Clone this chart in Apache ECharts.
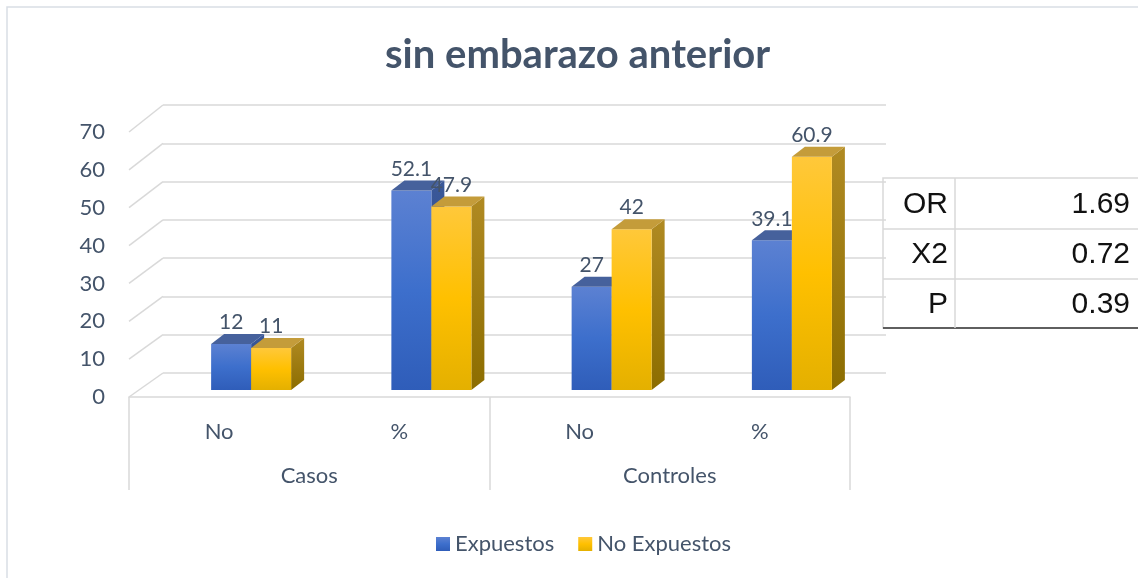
<!DOCTYPE html>
<html>
<head>
<meta charset="utf-8">
<script src="https://cdn.jsdelivr.net/npm/echarts@6/dist/echarts.min.js"></script>
<style>
  html, body { margin: 0; padding: 0; background: #fff; }
  #main { width: 1138px; height: 578px; }
</style>
</head>
<body>
<div id="main"></div>
<script>
// datos
var categories = ["No", "%", "No", "%"];
var groups = ["Casos", "Controles"];
var expuestos = [12, 52.1, 27, 39.1];
var noExpuestos = [11, 47.9, 42, 60.9];
var yTicks = [0, 10, 20, 30, 40, 50, 60, 70];
var statLabels = ["OR", "X2", "P"];
var statValues = ["1.69", "0.72", "0.39"];

var FONT = "Lato, 'Open Sans', sans-serif";
var TXT = "#44546a";
var GRID = "#d9d9d9";
var DX = 13, DY = 10, BW = 40; // profundidad de las barras

var chart = echarts.init(document.getElementById("main"));

function grad(c1, c2, c3) {
  return new echarts.graphic.LinearGradient(0, 0, 0, 1, [
    { offset: 0, color: c1 },
    { offset: 0.5, color: c2 },
    { offset: 1, color: c3 }
  ]);
}

var styles = [
  { front: ["#5c81d2", "#3d6fcc", "#2f5db9"], top: "#46619c", side: ["#3a5899", "#2a4785"] },
  { front: ["#ffc83a", "#ffc000", "#e4b000"], top: "#c49c3a", side: ["#b08a22", "#8c6d00"] }
];

function barRender(s) {
  return function (params, api) {
    var idx = api.value(0);
    var val = api.value(1);
    var base = api.coord([idx, 0]);
    var top = api.coord([idx, val]);
    var x0 = base[0] + (s === 0 ? -BW : 0);
    var x1 = x0 + BW;
    var st = styles[s];
    return {
      type: "group",
      children: [
        {
          type: "polygon",
          shape: { points: [[x1, top[1]], [x1 + DX, top[1] - DY], [x1 + DX, base[1] - DY], [x1, base[1]]] },
          style: { fill: new echarts.graphic.LinearGradient(0, 0, 0, 1, [{ offset: 0, color: st.side[0] }, { offset: 1, color: st.side[1] }]) }
        },
        {
          type: "rect",
          shape: { x: x0, y: top[1], width: BW, height: base[1] - top[1] },
          style: { fill: grad(st.front[0], st.front[1], st.front[2]) }
        },
        {
          type: "polygon",
          shape: { points: [[x0, top[1]], [x0 + DX, top[1] - DY], [x1 + DX, top[1] - DY], [x1, top[1]]] },
          style: { fill: st.top }
        },
        {
          type: "text",
          x: x0 + BW / 2,
          y: top[1] - DY - 1,
          style: {
            text: String(val),
            fill: TXT,
            font: "21px " + FONT,
            align: "center",
            verticalAlign: "bottom"
          }
        }
      ]
    };
  };
}

var tableChildren = [
  { type: "rect", shape: { x: 0, y: 0, width: 260, height: 150 }, style: { fill: "#fff", stroke: GRID, lineWidth: 1.5 } },
  { type: "line", shape: { x1: 0, y1: 150, x2: 260, y2: 150 }, style: { stroke: "#333", lineWidth: 1.5 } },
  { type: "line", shape: { x1: 72, y1: 0, x2: 72, y2: 150 }, style: { stroke: GRID, lineWidth: 1.5 } },
  { type: "line", shape: { x1: 0, y1: 51, x2: 260, y2: 51 }, style: { stroke: GRID, lineWidth: 1.5 } },
  { type: "line", shape: { x1: 0, y1: 101, x2: 260, y2: 101 }, style: { stroke: GRID, lineWidth: 1.5 } }
];
statLabels.forEach(function (lab, i) {
  var cy = 27 + i * 50;
  tableChildren.push({ type: "text", x: 65, y: cy, style: { text: lab, fill: "#111", font: "30px 'Liberation Sans', Arial", align: "right", verticalAlign: "middle" } });
  tableChildren.push({ type: "text", x: 247, y: cy, style: { text: statValues[i], fill: "#111", font: "30px 'Liberation Sans', Arial", align: "right", verticalAlign: "middle" } });
});

var option = {
  backgroundColor: "#fff",
  animation: false,
  title: {
    text: "sin embarazo anterior",
    left: 380,
    top: 30,
    textStyle: { color: TXT, fontFamily: FONT, fontWeight: "bold", fontSize: 40 }
  },
  legend: {
    bottom: 18,
    left: 431,
    itemWidth: 14,
    itemHeight: 14,
    itemGap: 24,
    icon: "rect",
    textStyle: { color: TXT, fontFamily: FONT, fontSize: 22 },
    data: ["Expuestos", "No Expuestos"]
  },
  grid: [
    { left: 129, right: 288, top: 132, bottom: 181 },   // plano frontal
    { left: 163, right: 252, top: 105, bottom: 205 },   // pared del fondo
    { left: 161, right: 256, top: 122, bottom: 188 }    // barras
  ],
  xAxis: [
    {
      gridIndex: 0, type: "category", data: categories,
      axisLine: { lineStyle: { color: GRID, width: 1.5 } },
      axisTick: { show: false },
      axisLabel: { color: TXT, fontFamily: FONT, fontSize: 22, margin: 24 }
    },
    {
      gridIndex: 0, type: "category", data: groups, position: "bottom",
      axisLine: { show: false },
      axisTick: { show: true, length: 93, lineStyle: { color: GRID, width: 1.5 } },
      axisLabel: { color: TXT, fontFamily: FONT, fontSize: 22, margin: 68 }
    },
    { gridIndex: 1, type: "category", data: categories, show: false },
    { gridIndex: 2, type: "category", data: categories, show: false }
  ],
  yAxis: [
    {
      gridIndex: 0, type: "value", min: 0, max: 70, interval: 10,
      axisLine: { show: false }, axisTick: { show: false }, splitLine: { show: false },
      axisLabel: { color: TXT, fontFamily: FONT, fontSize: 22, margin: 24 }
    },
    {
      gridIndex: 1, type: "value", min: 0, max: 70, interval: 10,
      axisLine: { show: false }, axisTick: { show: false }, axisLabel: { show: false },
      splitLine: { lineStyle: { color: GRID, width: 1.5 } }
    },
    { gridIndex: 2, type: "value", min: 0, max: 70, interval: 10, show: false, splitLine: { show: false } }
  ],
  series: [
    {
      name: "Expuestos", type: "custom", xAxisIndex: 3, yAxisIndex: 2,
      itemStyle: { color: grad("#5c81d2", "#3d6fcc", "#2f5db9") },
      renderItem: barRender(0),
      data: expuestos.map(function (v, i) { return [i, v]; })
    },
    {
      name: "No Expuestos", type: "custom", xAxisIndex: 3, yAxisIndex: 2,
      itemStyle: { color: grad("#ffc83a", "#ffc000", "#e4b000") },
      renderItem: barRender(1),
      data: noExpuestos.map(function (v, i) { return [i, v]; })
    }
  ],
  graphic: [
    { type: "rect", shape: { x: 7, y: 7, width: 1200, height: 640 }, style: { fill: "none", stroke: "#d9dee5", lineWidth: 1.5 }, z: -1 },
    { type: "group", x: 883, y: 178, children: tableChildren, z: 10 }
  ]
};
chart.setOption(option);

// líneas oblicuas entre el plano frontal y la pared del fondo
var slants = yTicks.map(function (v) {
  var fy = chart.convertToPixel({ yAxisIndex: 0 }, v);
  var by = chart.convertToPixel({ yAxisIndex: 1 }, v);
  return {
    type: "line",
    shape: { x1: 129, y1: fy, x2: 163, y2: by },
    style: { stroke: GRID, lineWidth: 1.5 },
    z: 0
  };
});
chart.setOption({ graphic: option.graphic.concat(slants) });
</script>
</body>
</html>
